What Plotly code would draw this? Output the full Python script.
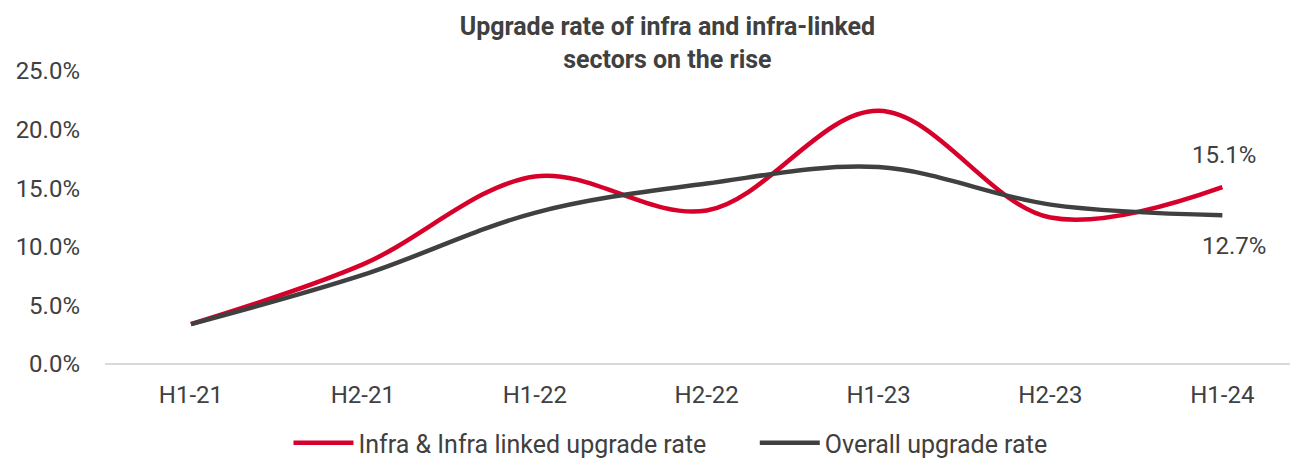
# Upgrade rate of infra vs overall, half-yearly.

import plotly.graph_objects as go

periods = ["H1-21", "H2-21", "H1-22", "H2-22", "H1-23", "H2-23", "H1-24"]
infraRate = [3.4, 8.5, 16.0, 13.1, 21.6, 12.5, 15.1]
overallRate = [3.4, 7.6, 12.9, 15.4, 16.8, 13.6, 12.7]
yTicks = [0, 5, 10, 15, 20, 25]
yTickText = ["0.0%", "5.0%", "10.0%", "15.0%", "20.0%", "25.0%"]

red = "#D7002A"
dark = "#404040"
font = "Roboto"

fig = go.Figure()

fig.add_trace(go.Scatter(
    x = periods, y = infraRate,
    mode = "lines",
    name = "Infra & Infra linked upgrade rate&nbsp;&nbsp;&nbsp;&nbsp;&nbsp;&nbsp;&nbsp;",
    line = dict(color = red, width = 4.5, shape = "spline", smoothing = 1.0),
))
fig.add_trace(go.Scatter(
    x = periods, y = overallRate,
    mode = "lines",
    name = "Overall upgrade rate",
    line = dict(color = dark, width = 4.5, shape = "spline", smoothing = 1.0),
))

# end-point labels
fig.add_annotation(x = periods[-1], y = infraRate[-1], text = "%.1f%%" % infraRate[-1],
                   showarrow = False, yshift = 32, xshift = 2,
                   font = dict(family = font, size = 24, color = dark))
fig.add_annotation(x = periods[-1], y = overallRate[-1], text = "%.1f%%" % overallRate[-1],
                   showarrow = False, yshift = -31, xshift = 12,
                   font = dict(family = font, size = 24, color = dark))

# page has an 8px body margin, so everything is shifted up/left by 8
fig.update_layout(
    width = 1298, height = 459,
    paper_bgcolor = "white", plot_bgcolor = "white",
    margin = dict(l = 97, r = 8, t = 63, b = 103, autoexpand = False),
    title = dict(text = "<b>Upgrade rate of infra and infra-linked<br>sectors on the rise</b>",
                 x = 0.508, xanchor = "center", xref = "container",
                 y = 0.941, yanchor = "middle", yref = "container",
                 font = dict(family = font, size = 25, color = dark)),
    font = dict(family = font, color = dark),
    showlegend = True,
    legend = dict(orientation = "h", x = 0.474, xanchor = "center", y = -0.27, yanchor = "middle",
                  font = dict(family = font, size = 25, color = dark),
                  itemwidth = 60, tracegroupgap = 0),
)

fig.update_xaxes(
    range = [-0.5, 6.44], showgrid = False, showline = False, zeroline = False,
    ticks = "", ticklabelstandoff = 14,
    tickfont = dict(family = font, size = 24, color = dark),
)
fig.update_yaxes(
    range = [0, 25], tickvals = yTicks, ticktext = yTickText,
    showgrid = False, zeroline = True, zerolinecolor = "#D9D9D9", zerolinewidth = 2,
    showline = False, ticks = "", ticklabelstandoff = 24,
    tickfont = dict(family = font, size = 24, color = dark),
)

fig.write_html("out.html")
